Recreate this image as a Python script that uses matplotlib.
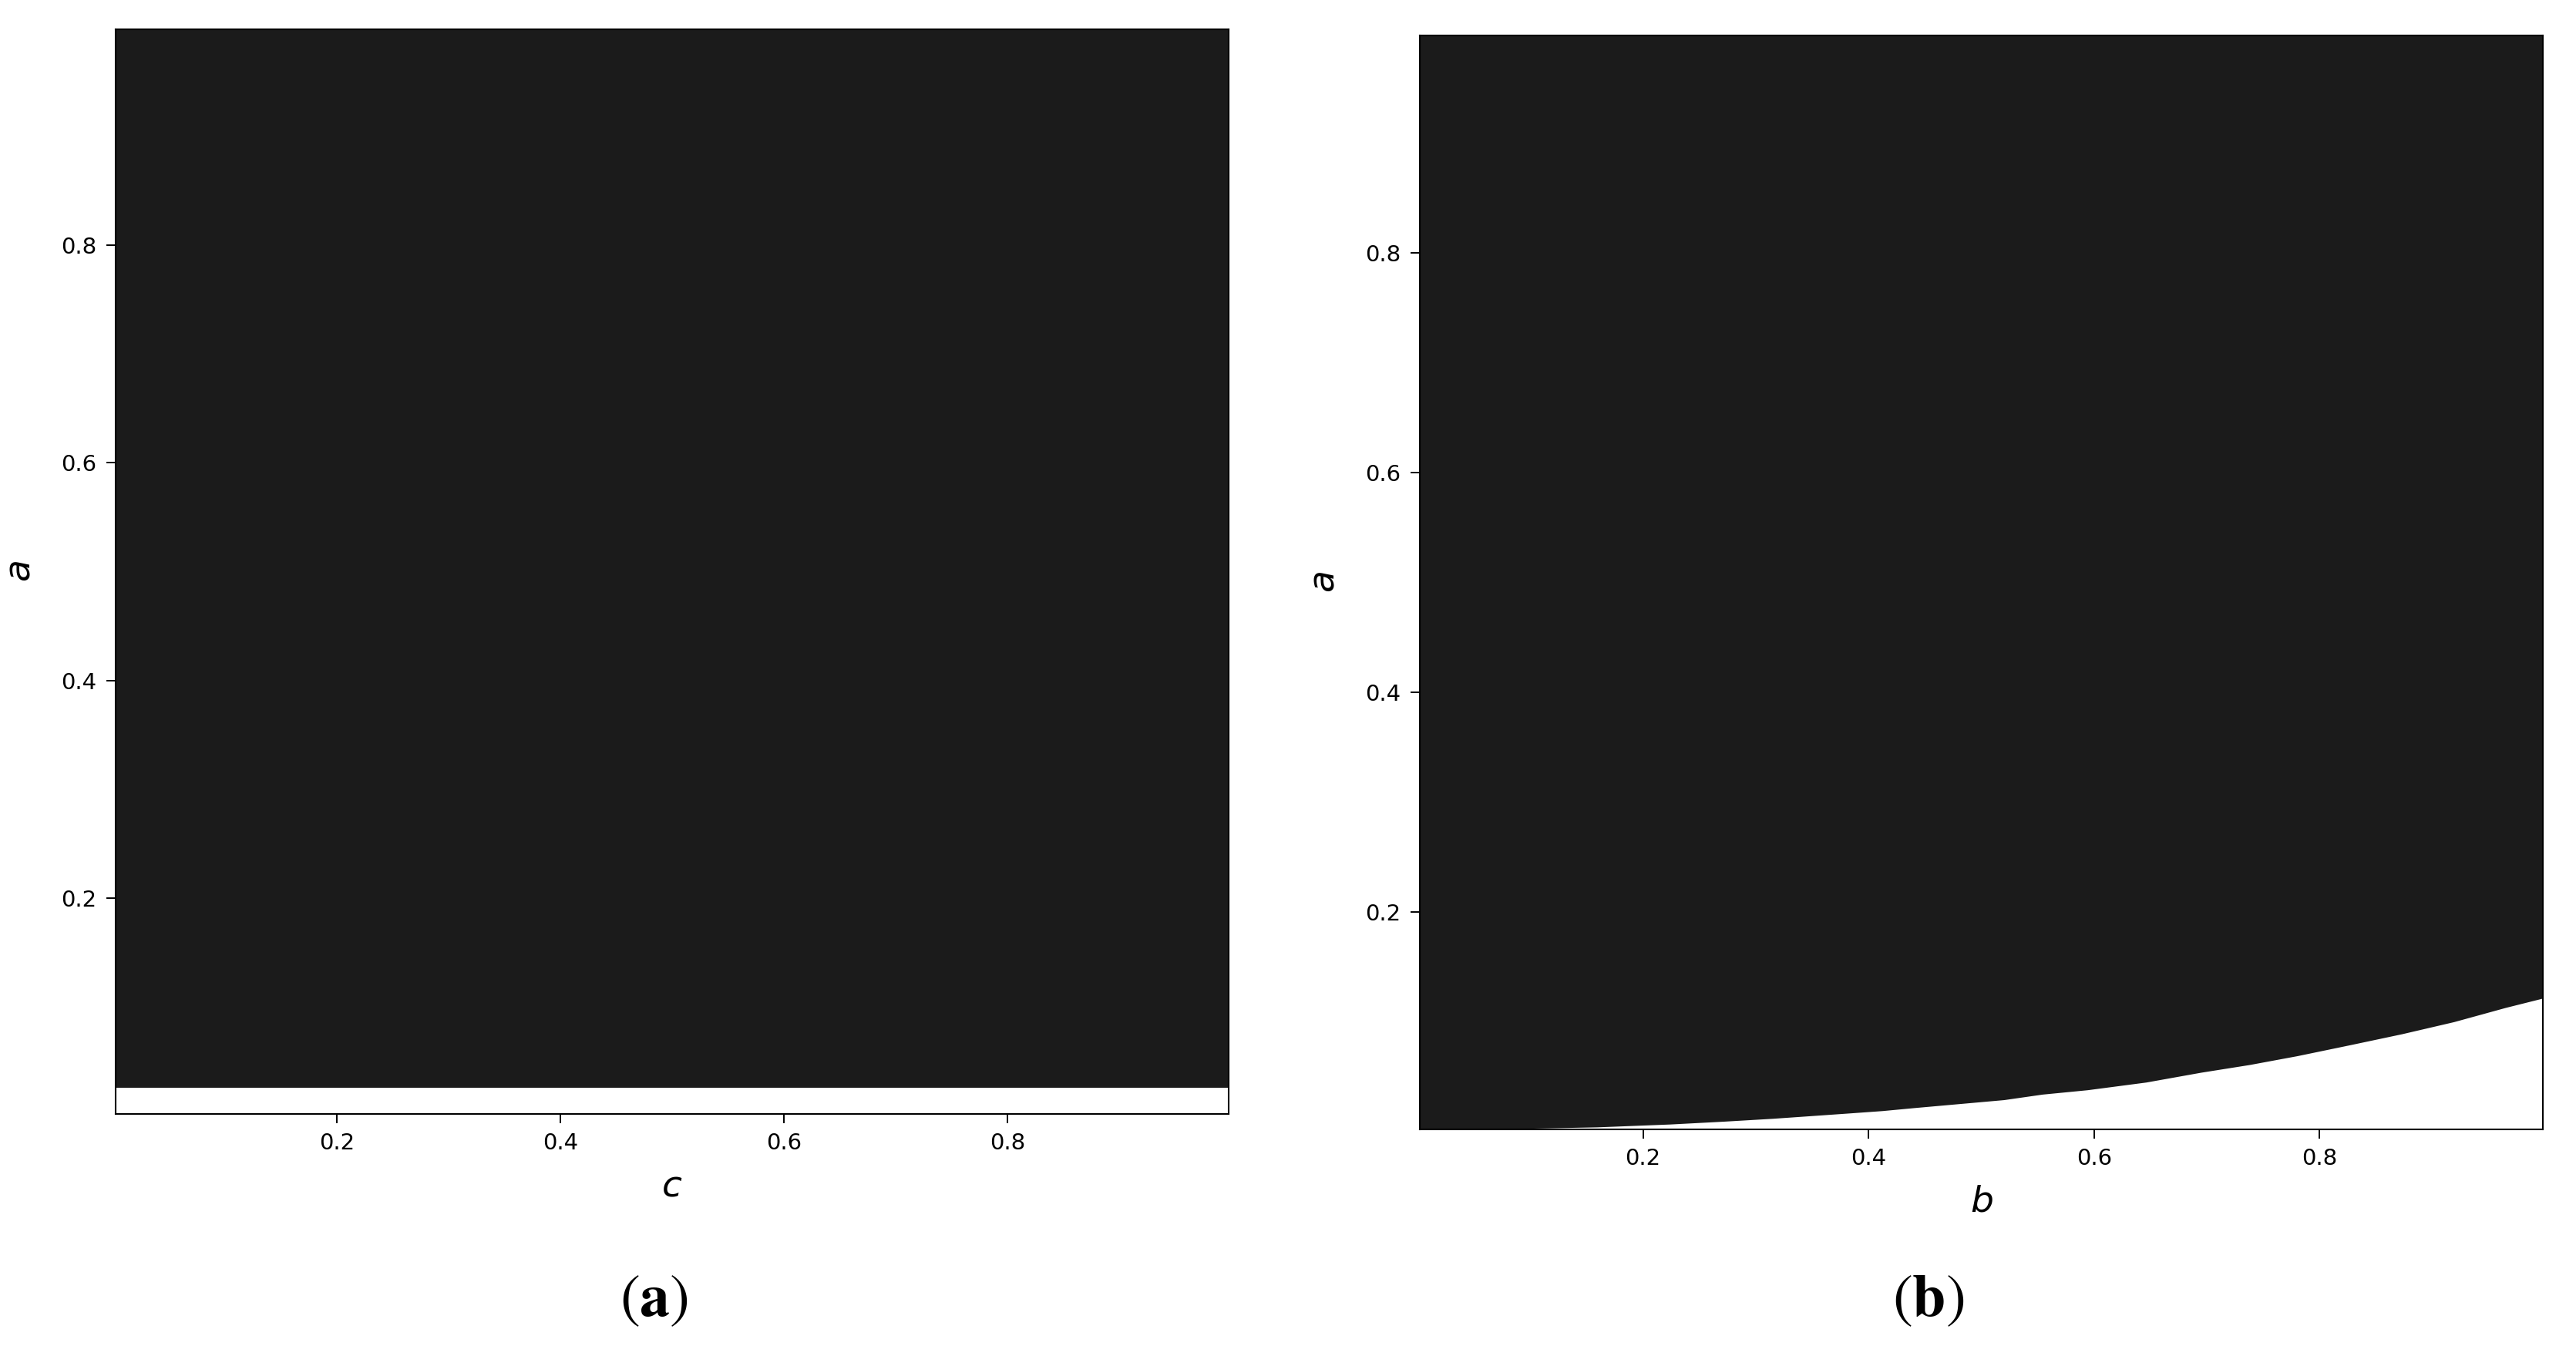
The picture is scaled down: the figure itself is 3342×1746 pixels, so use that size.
import numpy as np
import matplotlib
matplotlib.use("Agg")
import matplotlib.pyplot as plt

# ---- data ----
# Panel (a): boundary a*(c) below which the region is white (unstable)
panel_a_c = [0.0, 1.0]
panel_a_boundary = [0.026, 0.026]

# Panel (b): boundary a*(b) below which the region is white
panel_b_b = [0.0, 0.051, 0.051, 0.159, 0.224, 0.272, 0.315, 0.350, 0.382, 0.412,
             0.440, 0.520, 0.554, 0.594, 0.646, 0.695, 0.738, 0.780, 0.827,
             0.873, 0.919, 0.965, 1.0]
panel_b_boundary = [0.0, 0.0, 0.002, 0.0042, 0.0068, 0.0094, 0.012, 0.0145, 0.0168,
                    0.019, 0.0217, 0.029, 0.034, 0.038, 0.045, 0.054, 0.061, 0.069,
                    0.079, 0.089, 0.100, 0.113, 0.122]

x_ticks = [0.2, 0.4, 0.6, 0.8]
y_ticks = [0.2, 0.4, 0.6, 0.8]
axis_lim = (0.002, 0.998)

DARK = "#1b1b1b"
W, H = 3342, 1746
fig = plt.figure(figsize=(W / 100, H / 100), dpi=100)

ax_a = fig.add_axes([150 / W, (H - 1445) / H, 1444 / W, 1407 / H])
ax_b = fig.add_axes([1842 / W, (H - 1465) / H, 1457 / W, 1419 / H])

def style(ax, xlabel):
    ax.set_xlim(*axis_lim)
    ax.set_ylim(*axis_lim)
    ax.set_xticks(x_ticks)
    ax.set_yticks(y_ticks)
    ax.set_xticklabels([f"{t:.1f}" for t in x_ticks])
    ax.set_yticklabels([f"{t:.1f}" for t in y_ticks])
    ax.tick_params(labelsize=21, length=8.5, width=1.4, pad=9)
    for s in ax.spines.values():
        s.set_linewidth(1.5)
        s.set_zorder(5)
    ax.set_xlabel(xlabel, fontsize=34, labelpad=14)
    ax.set_ylabel(r"$a$", fontsize=34, labelpad=22)

ax_a.fill_between(panel_a_c, panel_a_boundary, 1.0, color=DARK, lw=0)
ax_b.fill_between(panel_b_b, panel_b_boundary, 1.0, color=DARK, lw=0)

style(ax_a, r"$c$")
style(ax_b, r"$b$")

fig.text(848 / W, 1 - 1685 / H, r"$(\mathbf{a})$", fontsize=56, math_fontfamily="stix",
         ha="center", va="center")
fig.text(2502 / W, 1 - 1685 / H, r"$(\mathbf{b})$", fontsize=56, math_fontfamily="stix",
         ha="center", va="center")

fig.savefig("out.png", dpi=100)
